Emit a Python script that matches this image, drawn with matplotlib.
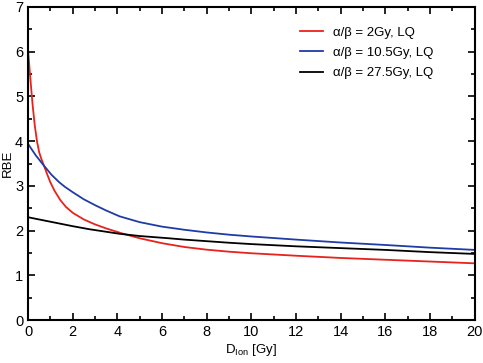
import numpy as np
import matplotlib
matplotlib.use('Agg')
import matplotlib.pyplot as plt
from matplotlib.ticker import MultipleLocator

plt.rcParams['font.family'] = ['Liberation Sans', 'DejaVu Sans']
plt.rcParams['mathtext.fontset'] = 'custom'
plt.rcParams['mathtext.rm'] = 'Liberation Sans'

# Dados
x_vermelho = [0, 0.1, 0.2, 0.3, 0.4, 0.5, 0.6, 0.7, 0.85, 1.0, 1.2, 1.45, 1.7, 2.0, 2.5,
              3.0, 3.5, 4.2, 5, 6, 7, 8, 9, 10, 12, 14, 16, 18, 20]
rbe_vermelho = [6.04, 5.42, 4.84, 4.36, 4.0, 3.75, 3.6, 3.47, 3.27, 3.08, 2.88, 2.68, 2.53,
                2.40, 2.25, 2.14, 2.05, 1.94, 1.83, 1.72, 1.635, 1.575, 1.53, 1.495,
                1.44, 1.39, 1.35, 1.31, 1.27]

x_azul = [0, 0.35, 0.7, 1.05, 1.4, 1.65, 2.0, 2.5, 3.0, 3.5, 4.1, 5, 6, 7, 8, 9, 10,
          12, 14, 16, 18, 20]
rbe_azul = [3.94, 3.68, 3.46, 3.25, 3.08, 2.98, 2.86, 2.70, 2.57, 2.45, 2.32, 2.19, 2.09,
            2.02, 1.96, 1.91, 1.87, 1.80, 1.735, 1.68, 1.62, 1.57]

x_preto = [0, 1, 2, 2.77, 3.44, 4.1, 5, 6.3, 7, 8, 9, 10, 11, 12, 14, 16, 18, 20]
rbe_preto = [2.30, 2.20, 2.10, 2.03, 1.98, 1.93, 1.88, 1.83, 1.80, 1.765, 1.73, 1.70,
             1.675, 1.65, 1.61, 1.57, 1.52, 1.48]

legendas = ['α/β = 2Gy, LQ', 'α/β = 10.5Gy, LQ', 'α/β = 27.5Gy, LQ']

fig = plt.figure(figsize=(4.83, 3.63), dpi=100)
ax = fig.add_axes([0.058, 0.118, 0.925, 0.863])

ax.plot(x_vermelho, rbe_vermelho, color='#e8221c', lw=1.3, label=legendas[0])
ax.plot(x_azul, rbe_azul, color='#1f3ca6', lw=1.3, label=legendas[1])
ax.plot(x_preto, rbe_preto, color='black', lw=1.3, label=legendas[2])

ax.set_xlim(0, 20)
ax.set_ylim(0, 7)
ax.xaxis.set_major_locator(MultipleLocator(2))
ax.xaxis.set_minor_locator(MultipleLocator(1))
ax.yaxis.set_major_locator(MultipleLocator(1))
ax.yaxis.set_minor_locator(MultipleLocator(0.5))
ax.tick_params(which='both', direction='in', top=True, right=True, width=1.2, labelsize=10.5)
ax.tick_params(which='major', length=5)
ax.tick_params(which='minor', length=3)
for s in ax.spines.values():
    s.set_linewidth(1.5)

ax.set_xlabel(r'D$_{\mathrm{Ion}}$ [Gy]', fontsize=9.5, labelpad=2)
ax.set_ylabel('RBE', fontsize=9.5, labelpad=1)

ax.legend(loc='upper right', frameon=False, fontsize=9.5, handlelength=1.75,
          bbox_to_anchor=(0.935, 0.975), labelspacing=0.6)

fig.savefig('out.png', dpi=100)
